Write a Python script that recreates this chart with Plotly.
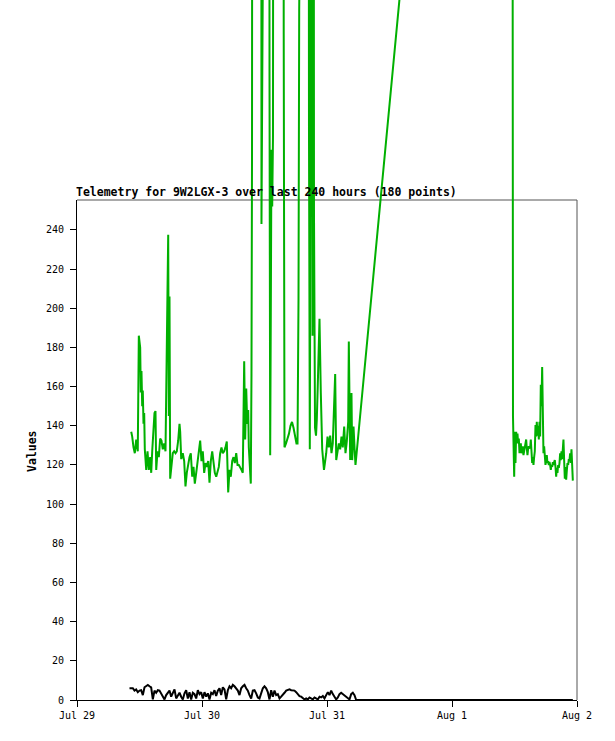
import pandas as pd
import plotly.graph_objects as go

BASE = pd.Timestamp("2024-07-29 00:00")

# ---- green series (hours since Jul 29 00:00, value) ----
green_hours = [
    10.41, 10.60, 10.85, 11.10, 11.37, 11.67, 11.87, 12.13, 12.25, 12.38,
    12.52, 12.63, 12.77, 12.90, 13.02, 13.29, 13.54, 13.79, 14.05, 14.25,
    14.44, 14.69, 14.88, 15.07, 15.21, 15.46, 15.71, 15.97, 16.22, 16.47,
    16.74, 16.99, 17.24, 17.51, 17.63, 17.76, 17.89, 18.14, 18.39, 18.66,
    18.91, 19.16, 19.43, 19.68, 19.81, 20.01, 20.31, 20.58, 20.83, 21.08,
    21.35, 21.60, 21.85, 22.12, 22.37, 22.62, 22.89, 23.14, 23.39, 23.65,
    23.90, 24.15, 24.42, 24.67, 24.92, 25.19, 25.44, 25.69, 25.96, 26.21,
    26.46, 26.73, 26.98, 27.23, 27.49, 27.74, 27.99, 28.26, 28.51, 28.76,
    29.03, 29.28, 29.53, 29.80, 30.05, 30.30, 30.57, 30.82, 31.07, 31.33,
    31.58, 31.83, 31.97, 32.10, 32.29, 32.49, 32.68, 32.87, 32.99, 33.25,
    33.37, 33.50, 33.60, 33.75, 35.33, 35.42, 35.56, 35.67, 36.86, 36.96,
    37.09, 37.21, 37.34, 37.48, 37.63, 37.79, 39.55, 39.69, 39.84, 40.13,
    40.42, 40.70, 40.99, 41.28, 41.57, 41.86, 42.14, 42.34, 42.53, 42.66,
    42.82, 44.35, 44.54, 44.70, 44.87, 45.02, 45.22, 45.35, 45.50, 45.70,
    45.89, 46.04, 46.27, 46.43, 46.56, 46.81, 47.08, 47.42, 47.85, 48.10,
    48.35, 48.61, 48.86, 49.11, 49.38, 49.57, 49.77, 50.02, 50.27, 50.53,
    50.78, 51.03, 51.30, 51.55, 51.80, 52.07, 52.19, 52.45, 52.70, 52.84,
    53.09, 53.34, 53.47,
    83.48, 83.56, 83.71, 83.94,
    84.06, 84.19, 84.32, 84.44, 84.57, 84.70, 84.83, 84.96, 85.08, 85.21,
    85.34, 85.47, 85.60, 85.72, 85.85, 85.98, 86.11, 86.24, 86.36, 86.49,
    86.62, 86.75, 86.88, 87.00, 87.13, 87.26, 87.39, 87.52, 87.64, 87.77,
    87.90, 88.03, 88.16, 88.28, 88.41, 88.54, 88.67, 88.80, 88.92, 89.05,
    89.18, 89.31, 89.44, 89.56, 89.69, 89.82, 89.95, 90.08, 90.20, 90.33,
    90.46, 90.59, 90.72, 90.84, 90.97, 91.10, 91.23, 91.36, 91.48, 91.61,
    91.74, 91.87, 92.00, 92.12, 92.25, 92.38, 92.51, 92.64, 92.76, 92.89,
    93.02, 93.15, 93.28, 93.40, 93.53, 93.66, 93.79, 93.92, 94.04, 94.17,
    94.30, 94.43, 94.56, 94.68, 94.81, 94.94, 95.07, 95.20,
]
green_values = [
    137, 134.5, 129, 126, 133, 127, 186, 180, 157, 168,
    150, 158, 141, 146.5, 128, 117.5, 127, 117.5, 124, 116,
    127, 139, 146.5, 147.5, 117.5, 127, 124, 133.5, 132.5, 128,
    131, 127, 182, 237.5, 145, 206, 113, 122, 126, 127,
    126, 127, 132.5, 141, 137, 123, 126, 122, 109, 116,
    121, 124, 126, 114, 119, 110.5, 116, 122, 128.5, 132.5,
    122, 127, 116, 121, 119, 122, 111, 122, 127, 122,
    116, 114, 117.5, 119, 126, 129, 126, 127, 129, 132,
    106, 117.5, 114, 122, 124, 121, 126, 120, 120, 119,
    117.5, 116, 144, 173, 133, 159, 141, 148, 129, 119,
    110.5, 166, 276, 950, 950, 243, 280, 950, 950, 321,
    125, 198, 281, 252, 288, 950, 950, 340, 129, 131,
    133, 136, 140, 142, 139, 134, 131, 131, 205, 352,
    950, 950, 293, 128, 304, 950, 186, 950, 250, 139,
    135, 143, 165, 180, 194.6, 157, 128, 117.5, 126, 134.5,
    129, 135, 126, 131, 147, 166.5, 122.5, 128, 131, 128,
    134.5, 129, 139.6, 126, 132, 142, 183, 122.5, 156.8, 122.5,
    139.6, 126, 120,
    965, 226.4, 144.7, 114,
    137, 121, 137, 131, 136, 131, 133.5, 126, 128.5, 131,
    126, 128, 129.5, 125, 127, 128, 130, 133, 128.5, 125,
    128.5, 129.5, 129, 128.5, 133, 126, 121, 124, 120, 124,
    127, 140.4, 134.5, 142, 135, 140, 133, 142, 134.5, 161,
    150, 170, 150, 126, 129.5, 123, 120, 123, 125, 121,
    122, 120, 121.5, 120, 117.5, 120, 119, 121.5, 120, 121.5,
    122.5, 119, 114, 118.5, 116, 120, 118.5, 121, 126, 122.5,
    127, 123, 128, 133, 122.5, 113, 119, 112.5, 117, 121,
    120, 123, 122.5, 126, 121, 128, 120, 112,
]

# ---- black series ----
black_hours = [
    10.08, 10.40, 10.72, 11.04, 11.36, 11.68, 12.00, 12.32, 12.64, 12.96,
    13.28, 13.60, 13.92, 14.24, 14.56, 14.88, 15.20, 15.52, 15.84, 16.16,
    16.48, 16.80, 17.12, 17.44, 17.76, 18.08, 18.40, 18.72, 19.04, 19.36,
    19.68, 20.00, 20.32, 20.64, 20.96, 21.28, 21.60, 21.92, 22.24, 22.56,
    22.88, 23.20, 23.52, 23.84, 24.16, 24.48, 24.80, 25.12, 25.44, 25.76,
    26.08, 26.40, 26.72, 27.04, 27.36, 27.68, 28.00, 28.32, 28.64, 28.96,
    29.28, 29.60, 29.92, 30.24, 30.56, 30.88, 31.20, 31.52, 31.84, 32.16,
    32.48, 32.80, 33.12, 33.44, 33.76, 34.08, 34.40, 34.72, 35.04, 35.36,
    35.68, 36.00, 36.32, 36.64, 36.96, 37.28, 37.60, 37.92, 38.24, 38.56,
    38.88, 39.20, 39.52, 39.84, 40.16, 40.48, 40.80, 41.12, 41.44, 41.76,
    42.08, 42.40, 42.72, 43.04, 43.36, 43.68, 44.00, 44.32, 44.64, 44.96,
    45.28, 45.60, 45.92, 46.24, 46.56, 46.88, 47.20, 47.52, 47.84, 48.16,
    48.48, 48.80, 49.12, 49.44, 49.76, 50.08, 50.40, 50.72, 51.04, 51.36,
    51.68, 52.00, 52.32, 52.64, 52.96, 53.28, 53.60,
    83.56, 95.20,
]
black_values = [
    6, 6, 6, 4.8, 5.4, 4, 4.8, 5, 2.5, 6.5,
    7, 7.7, 7, 6.5, 0.3, 4.8, 3.7, 5, 4.8, 3.4,
    1.7, 0.3, 2.5, 3.4, 4.8, 1.7, 4, 5.4, 0.8, 2.5,
    3.7, 1.7, 0.3, 3.4, 5, 0.8, 4, 0.3, 3.7, 3,
    0.8, 5, 3, 4, 0.8, 4, 1.7, 3.4, 0.3, 3.7,
    3, 5, 2, 4.8, 6, 2.5, 6.5, 5.4, 0.3, 5,
    7, 6, 7.7, 7, 6, 4.8, 2.5, 6, 7, 7.7,
    6, 4.8, 2.5, 0.8, 4.8, 5, 3.4, 1.3, 0.8, 4,
    6, 7, 6, 4, 0.3, 5, 1.7, 4.8, 2.5, 3,
    0.8, 1.7, 2.5, 3.7, 4.8, 5, 5.4, 5, 4.8, 4.8,
    4, 3, 2, 1.7, 0.8, 0.3, 0.8, 0.3, 1.3, 0.8,
    0.3, 1.3, 0.8, 0.3, 1.7, 1.3, 2, 0.8, 2.5, 4,
    2.5, 4.8, 3, 1.7, 0.3, 1.3, 3, 3.7, 3, 2.5,
    1.7, 1.3, 0.3, 3, 3.7, 2.5, 0,
    0, 0,
]

x_tick_dates = ["2024-07-29", "2024-07-30", "2024-07-31", "2024-08-01", "2024-08-02"]
x_tick_labels = ["Jul 29", "Jul 30", "Jul 31", "Aug 1", "Aug 2"]
y_ticks = [0, 20, 40, 60, 80, 100, 120, 140, 160, 180, 200, 220, 240]

TITLE = "Telemetry for 9W2LGX-3 over last 240 hours (180 points)"
Y_MAX = 255.3
DOM_TOP = 500 / 700

def to_time(hours):
    return [BASE + pd.Timedelta(hours=h) for h in hours]

fig = go.Figure()
fig.add_trace(go.Scatter(
    x=to_time(black_hours), y=black_values, mode="lines",
    line=dict(color="#000000", width=2), yaxis="y", showlegend=False,
))
# green drawn on an overflow axis that shares the main scale but extends to the top of the page
fig.add_trace(go.Scatter(
    x=to_time(green_hours), y=green_values, mode="lines",
    line=dict(color="#00b000", width=2), yaxis="y2", showlegend=False,
))

mono = "DejaVu Sans Mono"
fig.update_layout(
    width=615, height=741,
    margin=dict(l=77, r=38, t=0, b=41),
    paper_bgcolor="white", plot_bgcolor="rgba(0,0,0,0)",
    xaxis=dict(
        type="date", range=[x_tick_dates[0], x_tick_dates[-1]],
        tickvals=x_tick_dates, ticktext=x_tick_labels,
        ticks="outside", ticklen=6, tickcolor="black", tickwidth=1,
        showline=True, linecolor="black", linewidth=1,
        showgrid=False, zeroline=False, anchor="y",
        tickfont=dict(family=mono, size=10, color="black"),
    ),
    yaxis=dict(
        domain=[0, DOM_TOP], range=[0, Y_MAX],
        tickvals=y_ticks, ticks="outside", ticklen=6, tickcolor="black",
        showline=True, linecolor="black", linewidth=1,
        showgrid=False, zeroline=False, anchor="x",
        ticklabelstandoff=4,
        tickfont=dict(family=mono, size=10, color="black"),
    ),
    yaxis2=dict(
        domain=[0, 1], range=[0, Y_MAX / DOM_TOP],
        visible=False, anchor="x", showgrid=False, zeroline=False,
    ),
    shapes=[
        dict(type="line", xref="paper", yref="paper", x0=0, x1=1, y0=DOM_TOP, y1=DOM_TOP,
             line=dict(color="#555555", width=1), layer="below"),
        dict(type="line", xref="paper", yref="paper", x0=1, x1=1, y0=0, y1=DOM_TOP,
             line=dict(color="#555555", width=1), layer="below"),
    ],
    annotations=[
        dict(text="<b>" + TITLE + "</b>", xref="paper", yref="paper",
             x=-0.006, y=(700 - 192) / 700, xanchor="left", yanchor="middle",
             showarrow=False, font=dict(family=mono, size=11.5, color="black")),
        dict(text="<b>Values</b>", xref="paper", yref="paper",
             x=-0.09, y=(700 - 451) / 700, xanchor="center", yanchor="middle",
             textangle=-90, showarrow=False,
             font=dict(family=mono, size=11.5, color="black")),
    ],
)

fig.write_html("out.html", config={"displayModeBar": False},
               post_script="document.body.style.margin='0px';")
